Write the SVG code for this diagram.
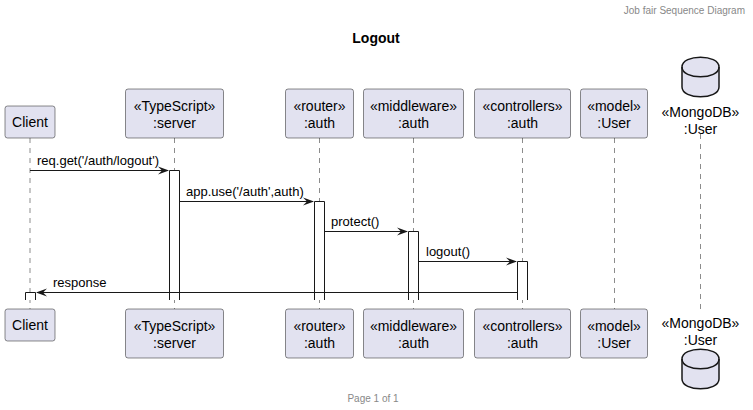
<svg xmlns="http://www.w3.org/2000/svg" width="753" height="410" viewBox="0 0 753 410">
<style>
.p{fill:#E2E2F0;stroke:#181818;stroke-width:0.5}
.t{font-family:"Liberation Sans",Arial,sans-serif;font-size:14px;fill:#000;text-anchor:middle}
.m{font-family:"Liberation Sans",Arial,sans-serif;font-size:13px;fill:#000}
.life{stroke:#181818;stroke-width:0.5;stroke-dasharray:5,5}
.act{fill:#fff;stroke:#181818;stroke-width:1}
.msg{stroke:#181818;stroke-width:1;fill:none}
.ah{fill:#181818}
</style>
<rect width="753" height="410" fill="#fff"/>
<text x="745" y="14" font-family="'Liberation Sans',Arial,sans-serif" font-size="10" fill="#888" text-anchor="end">Job fair Sequence Diagram</text>
<text x="376" y="43" font-family="'Liberation Sans',Arial,sans-serif" font-size="14" font-weight="bold" text-anchor="middle">Logout</text>
<g id="lifelines">
<line class="life" x1="30" y1="138" x2="30" y2="309"/>
<line class="life" x1="174.5" y1="138" x2="174.5" y2="309"/>
<line class="life" x1="319.5" y1="138" x2="319.5" y2="309"/>
<line class="life" x1="413.5" y1="138" x2="413.5" y2="309"/>
<line class="life" x1="522.5" y1="138" x2="522.5" y2="309"/>
<line class="life" x1="614.5" y1="138" x2="614.5" y2="309"/>
<line class="life" x1="700.5" y1="134" x2="700.5" y2="314"/>
</g>
<g id="activations">
<path class="act" d="M169.5,300 V170.5 H179.5 V300"/>
<path class="act" d="M314.5,300 V201.5 H324.5 V300"/>
<path class="act" d="M408.5,300 V231.5 H418.5 V300"/>
<path class="act" d="M517.5,300 V261.5 H527.5 V300"/>
<path class="act" d="M25.5,300 V292.5 H35.5 V300"/>
</g>
<g id="connectors">
<line class="msg" x1="30" y1="170.5" x2="168" y2="170.5"/>
<polygon class="ah" points="169,170.5 158,166.5 162,170.5 158,174.5"/>
<text class="m" x="37" y="165">req.get('/auth/logout')</text>
<line class="msg" x1="179.5" y1="201.5" x2="313" y2="201.5"/>
<polygon class="ah" points="314,201.5 303,197.5 307,201.5 303,205.5"/>
<text class="m" x="186" y="196">app.use('/auth',auth)</text>
<line class="msg" x1="324.5" y1="231.5" x2="407" y2="231.5"/>
<polygon class="ah" points="408,231.5 397,227.5 401,231.5 397,235.5"/>
<text class="m" x="331" y="226">protect()</text>
<line class="msg" x1="418.5" y1="261.5" x2="516" y2="261.5"/>
<polygon class="ah" points="517,261.5 506,257.5 510,261.5 506,265.5"/>
<text class="m" x="426" y="256">logout()</text>
<line class="msg" x1="517.5" y1="292.5" x2="37" y2="292.5"/>
<polygon class="ah" points="36,292.5 47,288.5 43,292.5 47,296.5"/>
<text class="m" x="53" y="287">response</text>
</g>
<g id="client">
<rect class="p" x="5" y="106" width="50" height="32" rx="2.5"/>
<text class="t" x="30" y="127">Client</text>
<rect class="p" x="5" y="309" width="50" height="32" rx="2.5"/>
<text class="t" x="30" y="330">Client</text>
</g>
<g id="server">
<rect class="p" x="125.5" y="89" width="98" height="49" rx="2.5"/>
<text class="t" x="174.5" y="111">«TypeScript»</text>
<text class="t" x="174.5" y="128">:server</text>
<rect class="p" x="125.5" y="309" width="98" height="49" rx="2.5"/>
<text class="t" x="174.5" y="331">«TypeScript»</text>
<text class="t" x="174.5" y="348">:server</text>
</g>
<g id="router">
<rect class="p" x="285.5" y="89" width="68" height="49" rx="2.5"/>
<text class="t" x="319.5" y="111">«router»</text>
<text class="t" x="319.5" y="128">:auth</text>
<rect class="p" x="285.5" y="309" width="68" height="49" rx="2.5"/>
<text class="t" x="319.5" y="331">«router»</text>
<text class="t" x="319.5" y="348">:auth</text>
</g>
<g id="middleware">
<rect class="p" x="363.5" y="89" width="100" height="49" rx="2.5"/>
<text class="t" x="413.5" y="111">«middleware»</text>
<text class="t" x="413.5" y="128">:auth</text>
<rect class="p" x="363.5" y="309" width="100" height="49" rx="2.5"/>
<text class="t" x="413.5" y="331">«middleware»</text>
<text class="t" x="413.5" y="348">:auth</text>
</g>
<g id="controllers">
<rect class="p" x="474.5" y="89" width="96" height="49" rx="2.5"/>
<text class="t" x="522.5" y="111">«controllers»</text>
<text class="t" x="522.5" y="128">:auth</text>
<rect class="p" x="474.5" y="309" width="96" height="49" rx="2.5"/>
<text class="t" x="522.5" y="331">«controllers»</text>
<text class="t" x="522.5" y="348">:auth</text>
</g>
<g id="model">
<rect class="p" x="580.5" y="89" width="67" height="49" rx="2.5"/>
<text class="t" x="614" y="111">«model»</text>
<text class="t" x="614" y="128">:User</text>
<rect class="p" x="580.5" y="309" width="67" height="49" rx="2.5"/>
<text class="t" x="614" y="331">«model»</text>
<text class="t" x="614" y="348">:User</text>
</g>
<g id="mongodb">
<path d="M682,67 C682,54 719,54 719,67 L719,87 C719,100 682,100 682,87 Z" fill="#E2E2F0" stroke="#181818" stroke-width="1.5"/>
<path d="M682,67 C682,80 719,80 719,67" fill="none" stroke="#181818" stroke-width="1.5"/>
<text class="t" x="700.5" y="117">«MongoDB»</text>
<text class="t" x="700.5" y="134">:User</text>
<text class="t" x="700.5" y="328">«MongoDB»</text>
<text class="t" x="700.5" y="345">:User</text>
<path d="M682,359 C682,346 719,346 719,359 L719,379 C719,392 682,392 682,379 Z" fill="#E2E2F0" stroke="#181818" stroke-width="1.5"/>
<path d="M682,359 C682,372 719,372 719,359" fill="none" stroke="#181818" stroke-width="1.5"/>
</g>
<text x="373" y="402" font-family="'Liberation Sans',Arial,sans-serif" font-size="10" fill="#888" text-anchor="middle">Page 1 of 1</text>
</svg>
